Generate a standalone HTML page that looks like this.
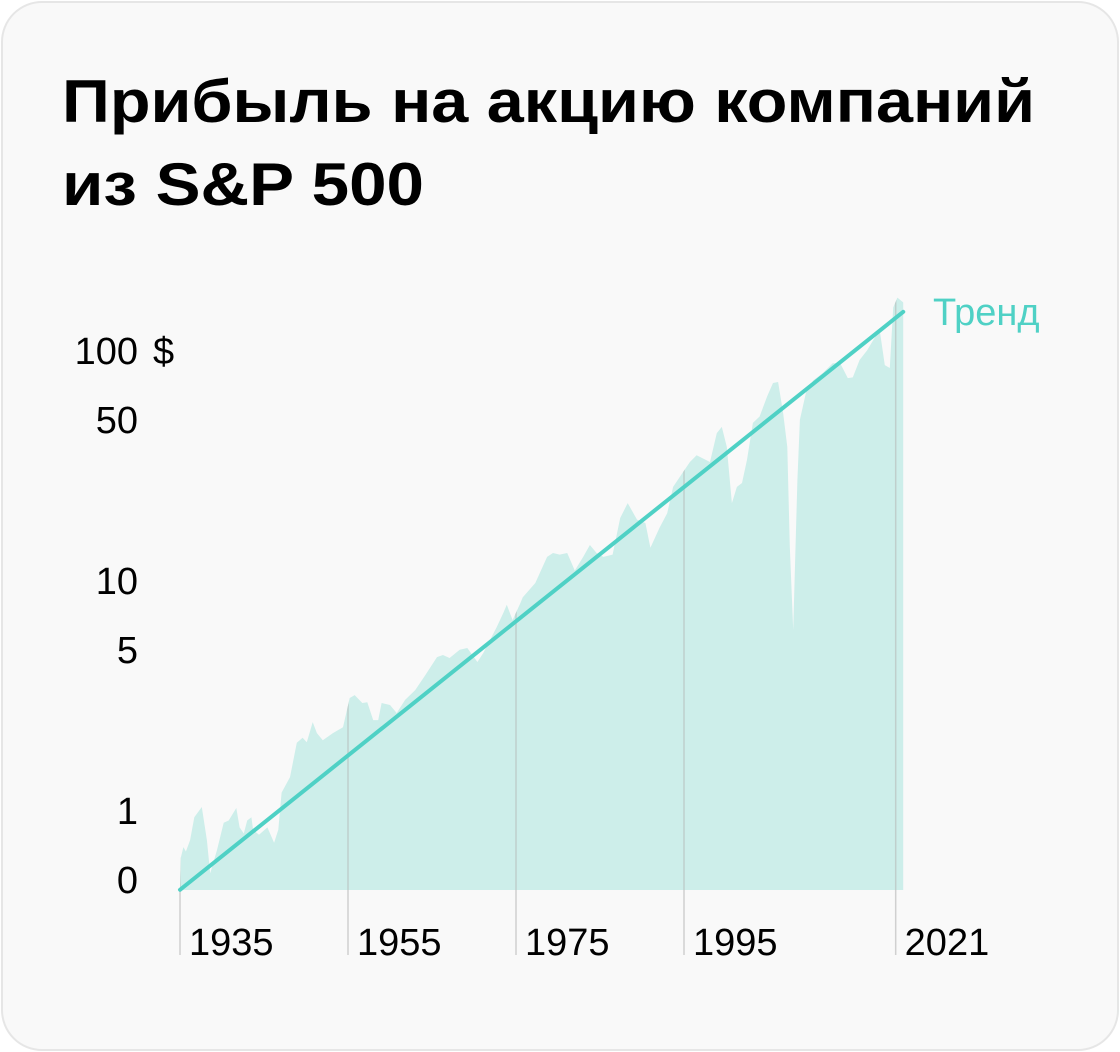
<!DOCTYPE html>
<html><head><meta charset="utf-8"><style>
html,body{margin:0;padding:0;background:#fff;}
svg{display:block;font-family:"Liberation Sans","DejaVu Sans",sans-serif;}
</style></head><body>
<svg width="1120" height="1052" viewBox="0 0 1120 1052">
<rect x="2" y="2" width="1116" height="1048" rx="40" fill="#f9f9f9" stroke="#e6e6e6" stroke-width="2"/>
<text x="62" y="122" font-size="60" font-weight="bold" fill="#000" textLength="973" lengthAdjust="spacingAndGlyphs">Прибыль на акцию компаний</text>
<text x="62" y="205" font-size="60" font-weight="bold" fill="#000" textLength="362" lengthAdjust="spacingAndGlyphs">из S&amp;P 500</text>
<g id="plot"></g>
</svg>
<script>
const years=[1935,1935.1,1935.4,1935.7,1936.2,1936.7,1937.6,1938.2,1938.6,1939.4,1940.2,1940.8,1941.7,1942.1,1942.6,1943.0,1943.5,1943.7,1944.4,1945.4,1946.2,1946.7,1947.1,1948.1,1948.9,1949.6,1950.1,1950.8,1951.3,1952.0,1953.2,1954.4,1955.2,1955.8,1956.7,1957.3,1958.0,1958.6,1959.0,1960.0,1960.8,1961.8,1963.0,1964.2,1965.6,1966.3,1967.1,1968.3,1969.2,1970.4,1971.1,1972.7,1973.5,1973.9,1974.6,1975.5,1975.8,1977.3,1978.7,1979.4,1980.2,1981.1,1982.0,1983.0,1983.8,1984.6,1985.4,1986.5,1987.4,1988.3,1989.4,1990.4,1991.0,1992.1,1993.0,1993.7,1994.9,1995.7,1996.5,1998.1,1998.9,1999.5,2000.1,2000.7,2001.3,2001.9,2002.5,2003.2,2004.0,2004.9,2005.6,2006.2,2006.8,2007.3,2007.6,2008.0,2008.5,2008.8,2009.6,2010.4,2011.5,2012.7,2013.6,2014.5,2015.1,2015.9,2016.8,2017.5,2018.3,2018.9,2019.5,2019.9,2020.4,2021.1];
const eps=[0.45,0.62,0.69,0.66,0.74,0.93,1.03,0.74,0.53,0.67,0.88,0.9,1.02,0.84,0.79,0.9,0.93,0.82,0.78,0.84,0.72,0.82,1.19,1.39,1.96,2.06,1.97,2.41,2.16,2.01,2.16,2.29,3.07,3.16,2.92,2.94,2.46,2.46,2.92,2.86,2.64,3.01,3.32,3.86,4.62,4.72,4.58,4.97,5.06,4.4,4.81,6.24,7.2,7.8,6.7,7.9,8.4,9.7,12.6,13.1,12.9,13.1,11.0,12.6,14.2,13.1,12.6,12.9,18.6,21.6,18.3,17.7,13.8,16.9,19.5,25.4,29.5,32.6,34.9,32.6,43.5,46.3,37.9,21.6,25.4,26.4,33.3,48.2,51.4,62.9,71.9,72.6,53.4,37.9,14,6.06,27.2,49.7,67.2,73.8,79.2,87.6,87.6,75.5,76,90.5,99.6,110,122,86,83.5,153,169,161];
const trendYears=[1935,2021.1];
const trendValues=[0.45,146.5];
const yTickValues=[100,50,10,5,1,0.5];
const yTickLabels=["100","50","10","5","1","0"];
const xTickYears=[1935,1955,1975,1995,2020.2];
const xTickLabels=["1935","1955","1975","1995","2021"];

const NS="http://www.w3.org/2000/svg";
const plot=document.getElementById('plot');
const xS=y=>180+(y-1935)*8.4;
const yS=v=>810-230*Math.log10(v);
const baseY=890;
function mk(t,a){const e=document.createElementNS(NS,t);for(const k in a)e.setAttribute(k,a[k]);plot.appendChild(e);return e;}

let d=`M${xS(years[0])},${baseY}`;
years.forEach((yr,i)=>{d+=` L${xS(yr).toFixed(1)},${yS(eps[i]).toFixed(1)}`;});
d+=` L${xS(years[years.length-1]).toFixed(1)},${baseY} Z`;
const defs=mk('defs',{});
const cp=document.createElementNS(NS,'clipPath');cp.setAttribute('id','areaClip');
const cpp=document.createElementNS(NS,'path');cpp.setAttribute('d',d);cp.appendChild(cpp);defs.appendChild(cp);

const area=mk('path',{d:d,fill:'#cdeeea'});



xTickYears.forEach((yr,i)=>{
  const x=xS(yr);
  const l1=mk('line',{x1:x,x2:x,y1:250,y2:baseY,stroke:'#bfcfcc','stroke-width':1.5,'clip-path':'url(#areaClip)'});
  
  
  const l2=mk('line',{x1:x,x2:x,y1:baseY,y2:955,stroke:'#d0d0d0','stroke-width':1.5});
  
  
  const t=mk('text',{x:x+9,y:955,'font-size':38,fill:'#000'});
  t.textContent=xTickLabels[i];
  
  
});

const tr=mk('line',{x1:xS(trendYears[0]),y1:yS(trendValues[0]),x2:xS(trendYears[1]),y2:yS(trendValues[1]),stroke:'#4fd1c5','stroke-width':4,'stroke-linecap':'round'});


const tl=mk('text',{x:933,y:325,'font-size':38,fill:'#4fd1c5'});
tl.textContent='Тренд';



yTickValues.forEach((v,i)=>{
  const t=mk('text',{x:138,y:yS(v)+14,'font-size':38,fill:'#000','text-anchor':'end'});
  t.textContent=yTickLabels[i];
  
  
  if(i===0){
    const s=mk('text',{x:153,y:yS(v)+14,'font-size':38,fill:'#000'});
    s.textContent='$';
    
    
  }
});
</script>
</body></html>
